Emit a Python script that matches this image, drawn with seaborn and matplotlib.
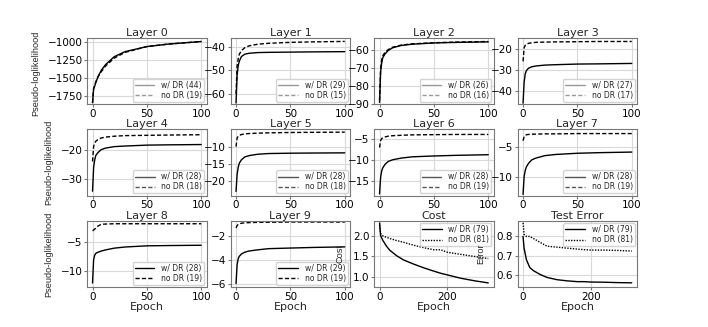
"""
Pseudo-loglikelihood per layer, with and without DR, plus cost / test error.
"""
import numpy as np
import pandas as pd
import matplotlib
matplotlib.use('Agg')
import matplotlib.pyplot as plt
import seaborn as sns

# ── data ──────────────────────────────────────────────
EP = [0, 1, 2, 3, 5, 8, 12, 20, 30, 50, 70, 100]

layer_dr = {
    0: [-1850, -1660, -1620, -1570, -1490, -1400, -1320, -1210, -1140, -1070, -1035, -1000],
    1: [-64, -52, -48, -46, -44, -43, -42.6, -42.3, -42.2, -42.1, -42.0, -41.9],
    2: [-89, -72, -67, -64, -62, -60, -58.5, -57.2, -56.5, -55.8, -55.5, -55.2],
    3: [-46, -36, -32, -30.5, -29.3, -28.6, -28.2, -27.8, -27.6, -27.3, -27.2, -27.0],
    4: [-34, -26, -23.5, -22, -21, -20, -19.5, -19, -18.8, -18.5, -18.4, -18.3],
    5: [-23, -18, -16, -14.8, -13.8, -13, -12.6, -12.2, -12.0, -11.9, -11.85, -11.8],
    6: [-18, -14, -12.5, -11.8, -11, -10.3, -9.9, -9.5, -9.2, -9.0, -8.85, -8.7],
    7: [-13, -10, -9, -8.4, -7.8, -7.2, -6.9, -6.5, -6.3, -6.1, -6.0, -5.9],
    8: [-12, -8, -7.2, -6.9, -6.7, -6.5, -6.3, -6.0, -5.8, -5.6, -5.55, -5.5],
    9: [-6, -4.4, -3.9, -3.7, -3.5, -3.35, -3.25, -3.15, -3.05, -3.0, -2.95, -2.9],
}
layer_nodr = {
    0: [-1850, -1650, -1610, -1560, -1490, -1420, -1340, -1230, -1150, -1070, -1035, -1000],
    1: [-60, -48, -45, -43, -41.5, -40.2, -39.4, -38.7, -38.3, -37.9, -37.7, -37.5],
    2: [-88, -70, -65, -63, -61, -59.5, -58.2, -57.0, -56.3, -55.7, -55.3, -55.0],
    3: [-26, -19.5, -18.3, -17.8, -17.4, -17.1, -16.9, -16.8, -16.7, -16.6, -16.5, -16.5],
    4: [-24, -19, -17.8, -17.2, -16.6, -16.1, -15.8, -15.5, -15.3, -15.2, -15.1, -15.0],
    5: [-10, -7.5, -7, -6.7, -6.5, -6.3, -6.2, -6.1, -6.0, -5.9, -5.85, -5.8],
    6: [-7, -5.3, -4.9, -4.7, -4.5, -4.3, -4.2, -4.1, -4.0, -3.95, -3.9, -3.9],
    7: [-4, -3.3, -3.1, -3.0, -2.95, -2.9, -2.9, -2.85, -2.85, -2.8, -2.8, -2.8],
    8: [-3.0, -2.9, -2.7, -2.6, -2.2, -1.9, -1.85, -1.8, -1.8, -1.8, -1.8, -1.8],
    9: [-1.3, -1.1, -1.0, -0.95, -0.9, -0.87, -0.85, -0.83, -0.82, -0.8, -0.8, -0.8],
}
n_dr = [44, 29, 26, 27, 28, 28, 28, 28, 28, 29]
n_nodr = [19, 15, 16, 17, 18, 18, 19, 19, 19, 19]

layer_ylim = [(-1870, -950), (-64.5, -36), (-89.5, -53), (-46.5, -14.8),
              (-35.5, -13.2), (-24.2, -5), (-18.4, -2.7), (-13.2, -2.1),
              (-12.7, -1.3), (-6.3, -0.7)]
layer_yticks = [[-1000, -1250, -1500, -1750], [-40, -50, -60], [-60, -70, -80, -90],
                [-20, -30, -40], [-20, -30], [-10, -15, -20], [-5, -10, -15],
                [-5, -10], [-5, -10], [-2, -4, -6]]

EP_LONG = [0, 3, 10, 20, 30, 50, 70, 100, 130, 160, 180, 200, 240, 280, 320]
cost_dr = [2.3, 2.0, 1.88, 1.75, 1.65, 1.52, 1.42, 1.32, 1.23, 1.15, 1.1, 1.06, 0.98, 0.92, 0.87]
cost_nodr = [2.25, 2.05, 1.99, 1.96, 1.93, 1.88, 1.84, 1.77, 1.71, 1.66, 1.66, 1.6, 1.55, 1.5, 1.45]
err_dr = [0.80, 0.74, 0.68, 0.64, 0.625, 0.605, 0.59, 0.578, 0.572, 0.568, 0.568, 0.566, 0.565, 0.563, 0.562]
err_nodr = [0.87, 0.81, 0.80, 0.80, 0.79, 0.77, 0.75, 0.745, 0.74, 0.735, 0.732, 0.73, 0.73, 0.728, 0.725]
n_cost = (79, 81)

# ── style ─────────────────────────────────────────────
sns.set_style('whitegrid', {'axes.edgecolor': '#777777', 'grid.color': '#d9d9d9',
                            'xtick.bottom': True, 'ytick.left': True})
plt.rcParams['font.family'] = ['DejaVu Sans']
plt.rcParams['xtick.major.size'] = 2.5
plt.rcParams['ytick.major.size'] = 2.5
plt.rcParams['xtick.color'] = '#777777'
plt.rcParams['ytick.color'] = '#777777'
plt.rcParams['xtick.labelcolor'] = 'black'
plt.rcParams['ytick.labelcolor'] = 'black'

fig, axes = plt.subplots(3, 4, figsize=(7.08, 3.27), dpi=100)
fig.subplots_adjust(left=0.123, right=0.9, top=0.884, bottom=0.122,
                    wspace=0.2, hspace=0.38)

ylab_font = dict(family=['Liberation Sans'], fontsize=6.6)


def draw(ax, x, y1, y2, lab1, lab2, style2, loc, handle_col):
    df = pd.DataFrame({'x': list(x) * 2, 'y': list(y1) + list(y2),
                       's': [lab1] * len(x) + [lab2] * len(x)})
    sns.lineplot(data=df, x='x', y='y', hue='s', style='s',
                 palette={lab1: 'black', lab2: 'black'},
                 dashes={lab1: '', lab2: style2}, linewidth=1.0,
                 ax=ax, legend=True)
    leg = ax.legend(loc=loc, fontsize=5.5, handlelength=2.6, borderpad=0.25,
                    labelspacing=0.15, handletextpad=0.9, borderaxespad=0.3,
                    framealpha=0.85)
    for h in leg.legend_handles:
        h.set_color(handle_col)
    ax.set_xlabel('')
    ax.set_ylabel('')
    ax.tick_params(labelsize=7.5, pad=0.8)


for i in range(10):
    ax = axes.flat[i]
    hc = '#999999' if i < 4 else ('#555555' if i < 8 else 'black')
    draw(ax, EP, layer_dr[i], layer_nodr[i], f'w/ DR ({n_dr[i]})',
         f'no DR ({n_nodr[i]})', (3, 1.6), 'lower right', hc)
    ax.set_xlim(-5, 105)
    ax.set_xticks([0, 50, 100])
    ax.set_ylim(*layer_ylim[i])
    ax.set_yticks(layer_yticks[i])
    ax.set_title(f'Layer {i}', fontsize=8, pad=1)

ax = axes[2, 2]
draw(ax, EP_LONG, cost_dr, cost_nodr, f'w/ DR ({n_cost[0]})', f'no DR ({n_cost[1]})',
     (1, 1), 'upper right', 'black')
ax.set_xlim(-16, 336)
ax.set_xticks([0, 200])
ax.set_ylim(0.77, 2.35)
ax.set_yticks([1.0, 1.5, 2.0])
ax.set_title('Cost', fontsize=8, pad=1)
ax.set_ylabel('Cost', **ylab_font)
ax.yaxis.set_label_coords(-0.25, 0.5)

ax = axes[2, 3]
draw(ax, EP_LONG, err_dr, err_nodr, f'w/ DR ({n_cost[0]})', f'no DR ({n_cost[1]})',
     (1, 1), 'upper right', 'black')
ax.set_xlim(-16, 336)
ax.set_xticks([0, 200])
ax.set_ylim(0.54, 0.88)
ax.set_yticks([0.6, 0.7, 0.8])
ax.set_title('Test Error', fontsize=8, pad=1)
ax.set_ylabel('Error', **ylab_font)
ax.yaxis.set_label_coords(-0.27, 0.5)

axes[0, 0].set_ylabel('Pseudo-loglikelihood', **ylab_font)
axes[0, 0].yaxis.set_label_coords(-0.39, 0.47)
for r in (1, 2):
    axes[r, 0].set_ylabel('Pseudo-loglikelihood', **ylab_font)
    axes[r, 0].yaxis.set_label_coords(-0.28, 0.5)

for ax in axes[2]:
    ax.set_xlabel('Epoch', fontsize=8, labelpad=0)

fig.savefig('out.png', dpi=100, facecolor='white')
